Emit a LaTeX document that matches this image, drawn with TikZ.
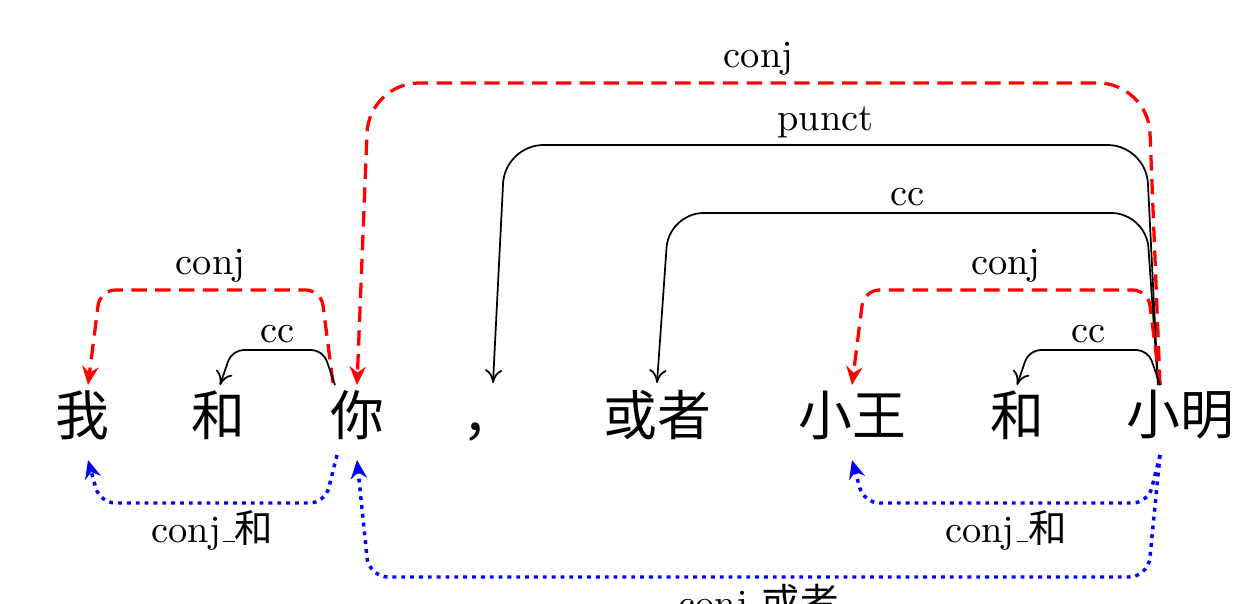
\documentclass[tikz,border=0pt]{standalone}
\usepackage{fontspec}
\newfontfamily\cjk{Noto Sans CJK SC}
\usetikzlibrary{calc,arrows.meta}
\newcommand\lowbar{\leavevmode\kern.06em\vbox{\hrule width.3em}}
\tikzstyle{word} = [font=\fontsize{14}{16}\cjk, inner sep=0pt]
\tikzstyle{lbl} = [font=\fontsize{10}{12}\selectfont, inner sep=1.5pt]
\tikzstyle{ccblack} = [draw=black, line width=0.45pt, rounded corners=3pt,
    -{To[length=3.5pt,width=4.5pt]}]
\tikzstyle{conjred} = [draw=red, line width=0.85pt, rounded corners=4pt,
    dash pattern=on 4pt off 2.2pt, -{Stealth[length=4.8pt,width=4.2pt]}]
\tikzstyle{conjblue} = [draw=blue, line width=0.9pt, rounded corners=4pt,
    dash pattern=on 1pt off 1.3pt, -{Stealth[length=4.8pt,width=4.2pt]}]

\begin{document}
\begin{tikzpicture}[x=0.26pt, y=-0.26pt]
    \useasboundingbox (0,0) rectangle (1236,603);
    \clip (0,0) rectangle (1236,603);
    % words
    \node[word] (wo) at (82,415) {我};
    \node[word] (he) at (218,415) {和};
    \node[word] (ni) at (357,415) {你};
    \node[word] (dou) at (489,432) {，};
    \node[word] (huozhe) at (657,415) {或者};
    \node[word] (xw) at (852,415) {小王};
    \node[word] (he2) at (1017,415) {和};
    \node[word] (xm) at (1180,415) {小明};
    % arcs above
    \draw[conjred] ($(ni)+(-24,-32)$) -- ($(ni)+(-36,-125)$)
        -- node[lbl, above]{conj} ($(wo)+(18,-125)$) -- ($(wo)+(6,-30)$);
    \draw[ccblack] ($(ni)+(-22,-30)$) -- ($(ni)+(-34,-65)$)
        -- node[lbl, above]{cc} ($(he)+(14,-65)$) -- ($(he)+(2,-30)$);
    \draw[conjred, rounded corners=13pt] ($(xm)+(-20,-30)$) -- ($(xm)+(-32,-332)$)
        -- node[lbl, above]{conj} ($(ni)+(12,-332)$) -- ($(ni)+(0,-30)$);
    \draw[ccblack, rounded corners=10pt] ($(xm)+(-22,-30)$) -- ($(xm)+(-34,-270)$)
        -- node[lbl, above]{punct} ($(dou)+(16,-287)$) -- ($(dou)+(4,-49)$);
    \draw[ccblack, rounded corners=9pt] ($(xm)+(-22,-30)$) -- ($(xm)+(-34,-202)$)
        -- node[lbl, above]{cc} ($(huozhe)+(12,-202)$) -- ($(huozhe)+(0,-32)$);
    \draw[conjred] ($(xm)+(-20,-30)$) -- ($(xm)+(-32,-125)$)
        -- node[lbl, above]{conj} ($(xw)+(12,-125)$) -- ($(xw)+(0,-30)$);
    \draw[ccblack] ($(xm)+(-20,-30)$) -- ($(xm)+(-32,-65)$)
        -- node[lbl, above]{cc} ($(he2)+(12,-65)$) -- ($(he2)+(0,-30)$);
    % arcs below
    \draw[conjblue] ($(ni)+(-20,40)$) -- ($(ni)+(-32,88)$)
        -- node[lbl, below]{conj\lowbar{\cjk 和}} ($(wo)+(18,88)$) -- ($(wo)+(6,45)$);
    \draw[conjblue, rounded corners=5pt] ($(xm)+(-20,40)$) -- ($(xm)+(-32,162)$)
        -- node[lbl, below]{conj\lowbar{\cjk 或者}} ($(ni)+(12,162)$) -- ($(ni)+(0,45)$);
    \draw[conjblue] ($(xm)+(-20,40)$) -- ($(xm)+(-32,88)$)
        -- node[lbl, below]{conj\lowbar{\cjk 和}} ($(xw)+(12,88)$) -- ($(xw)+(0,45)$);
\end{tikzpicture}
\end{document}
